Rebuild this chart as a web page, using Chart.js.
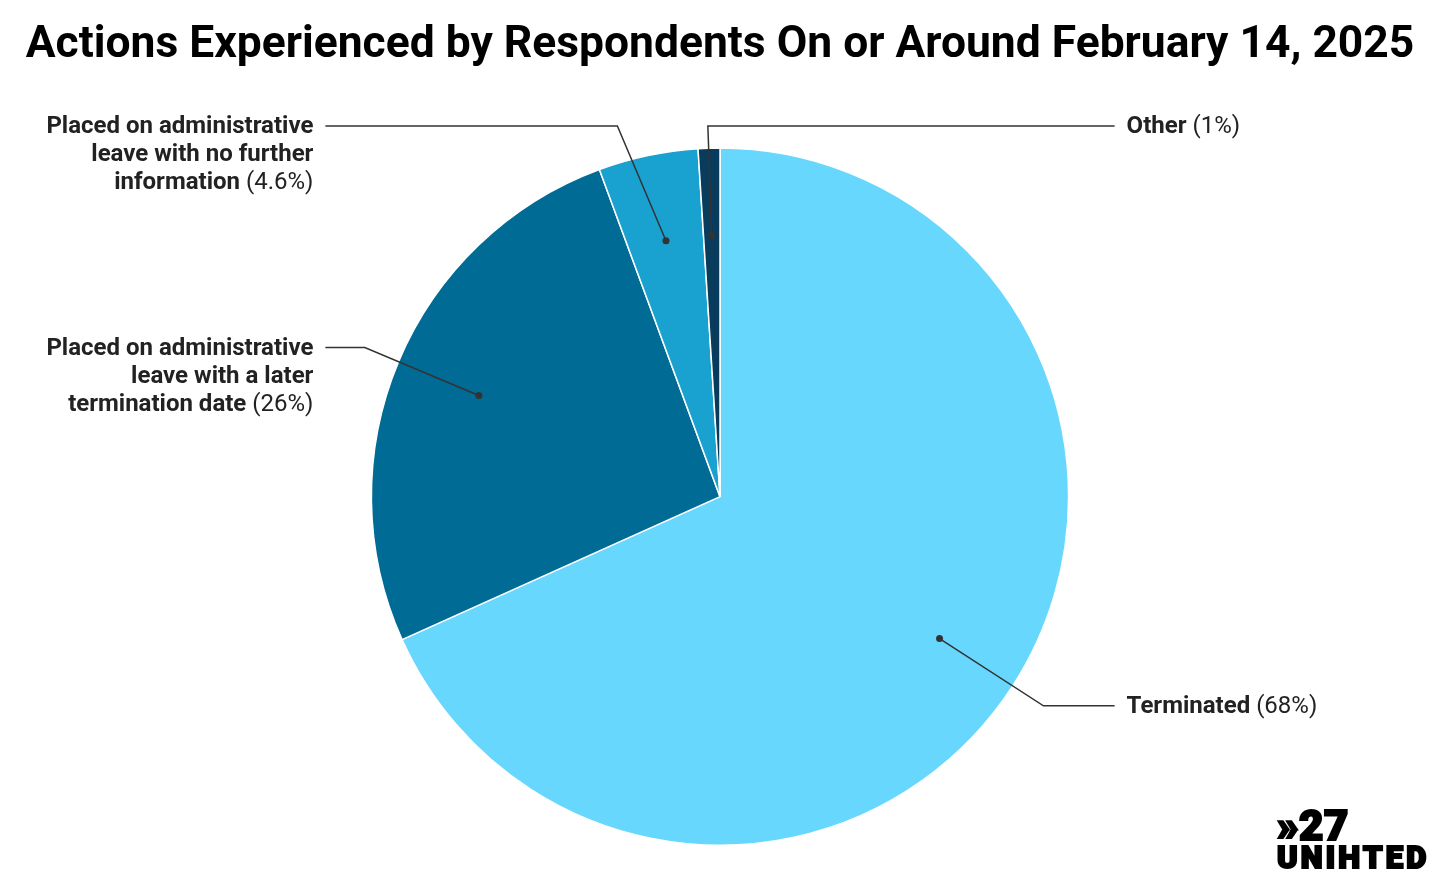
<!DOCTYPE html>
<html>
<head>
<meta charset="utf-8">
<script src="https://cdn.jsdelivr.net/npm/chart.js@4.4.1/dist/chart.umd.min.js"></script>
<style>
    html, body { margin: 0; padding: 0; background: #ffffff; }
    .wrap { position: relative; width: 1440px; height: 880px; }
    .logo {
        position: absolute; left: 1277px; top: 805px;
        font-family: Roboto, sans-serif; font-weight: 900; color: #000;
        line-height: 1; -webkit-text-stroke: 2.2px #000;
    }
    .logo .num { font-size: 42px; letter-spacing: 0.5px; }
    .logo .name { font-size: 31px; letter-spacing: 3.2px; margin-top: -5px; }
</style>
</head>
<body>
<div class="wrap">
    <canvas id="chart"></canvas>
    <div class="logo"><div class="num">»27</div><div class="name">UNIHTED</div></div>
</div>
<script>
const categories = [
    ['Terminated'],
    ['Placed on administrative', 'leave with a later', 'termination date'],
    ['Placed on administrative', 'leave with no further', 'information'],
    ['Other']
];
const shareValues = [68, 26, 4.6, 1];
const shareLabels = ['(68%)', '(26%)', '(4.6%)', '(1%)'];
const sliceColors = ['#67d7fd', '#006b95', '#19a1cf', '#083b5c'];

const FONT = 'Roboto, "Noto Sans", sans-serif';
const TEXT_COLOR = '#222222';
const LINE_COLOR = '#333333';

const calloutPlugin = {
    id: 'callouts',
    afterDatasetsDraw(chart) {
        const ctx = chart.ctx;
        const meta = chart.getDatasetMeta(0);
        ctx.save();
        meta.data.forEach((arc, i) => {
            const p = arc.getProps(['x', 'y', 'startAngle', 'endAngle', 'outerRadius'], true);
            const r = p.outerRadius;
            const mid = (p.startAngle + p.endAngle) / 2;
            const cos = Math.cos(mid);
            const sin = Math.sin(mid);
            const right = cos > -0.1;

            const dotX = p.x + cos * r * 0.75;
            const dotY = p.y + sin * r * 0.75;

            const elbowR = r * 1.105;
            const minY = p.y - r * 1.063;
            let elbowX = p.x + cos * elbowR;
            let elbowY = p.y + sin * elbowR;
            if (elbowY < minY) {
                elbowY = minY;
                elbowX = Math.abs(cos) > 0.1 ? elbowX - 23 : elbowX;
            }
            const endX = right ? p.x + r + 46 : p.x - r - 46;
            const textX = right ? p.x + r + 58 : p.x - r - 58;

            ctx.strokeStyle = LINE_COLOR;
            ctx.lineWidth = 1.5;
            ctx.beginPath();
            ctx.moveTo(dotX, dotY);
            ctx.lineTo(elbowX, elbowY);
            ctx.lineTo(endX, elbowY);
            ctx.stroke();

            ctx.fillStyle = LINE_COLOR;
            ctx.beginPath();
            ctx.arc(dotX, dotY, 3.5, 0, Math.PI * 2);
            ctx.fill();

            const lines = categories[i];
            const lineHeight = 28;
            ctx.fillStyle = TEXT_COLOR;
            ctx.textBaseline = 'middle';
            lines.forEach((line, j) => {
                const y = elbowY + 1 + j * lineHeight;
                const last = j === lines.length - 1;
                const bold = '700 24px ' + FONT;
                const regular = '400 24px ' + FONT;
                if (!last) {
                    ctx.font = bold;
                    ctx.textAlign = right ? 'left' : 'right';
                    ctx.fillText(line, textX, y);
                    return;
                }
                ctx.font = regular;
                const pctW = ctx.measureText(' ' + shareLabels[i]).width;
                ctx.font = bold;
                const nameW = ctx.measureText(line).width;
                const startX = right ? textX : textX - nameW - pctW;
                ctx.textAlign = 'left';
                ctx.fillText(line, startX, y);
                ctx.font = regular;
                ctx.fillText(' ' + shareLabels[i], startX + nameW, y);
            });
        });
        ctx.restore();
    }
};

new Chart(document.getElementById('chart').getContext('2d'), {
    type: 'pie',
    data: {
        labels: categories.map((c) => c.join(' ')),
        datasets: [
            {
                data: shareValues,
                backgroundColor: sliceColors,
                borderColor: '#ffffff',
                borderWidth: 1.5
            }
        ]
    },
    options: {
        responsive: true,
        maintainAspectRatio: false,
        animation: false,
        layout: {
            padding: { top: 0, bottom: 34, left: 0, right: 0 }
        },
        plugins: {
            legend: { display: false },
            tooltip: { enabled: false },
            title: {
                display: true,
                text: 'Actions Experienced by Respondents On or Around February 14, 2025',
                color: '#000000',
                font: { family: FONT, size: 44.4, weight: '700', lineHeight: 1.2 },
                padding: { top: 19, bottom: 75 }
            }
        }
    },
    plugins: [calloutPlugin]
});
</script>
</body>
</html>
